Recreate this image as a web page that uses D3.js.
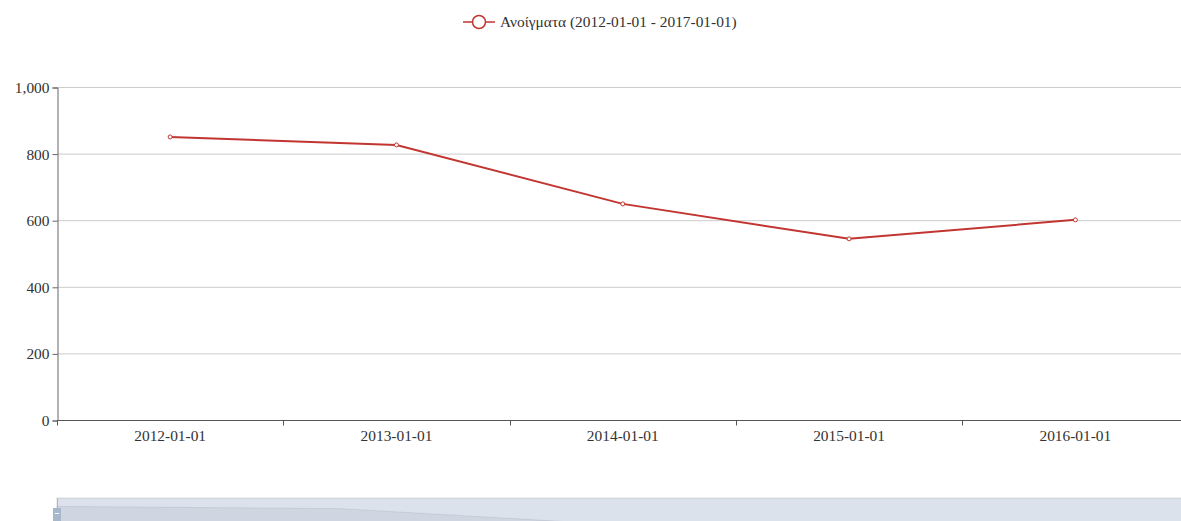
<!DOCTYPE html>
<html lang="en">
    <head>
        <meta charset="utf-8">
        <title>Ανοίγματα</title>
        <style type="text/css">
            body { margin: 0; background: #fff; overflow: hidden; }
            .lbl { font-family: "Liberation Serif", serif; font-size: 15.4px; fill: #333; }
        </style>
        <script type="text/javascript" src="https://cdn.jsdelivr.net/npm/d3@7/dist/d3.min.js"></script>
    </head>
    <body>
        <script type="text/javascript">

var w = 1181;
var h = 521;

// data
var categories = ['2012-01-01', '2013-01-01', '2014-01-01', '2015-01-01', '2016-01-01'];
var values = [850, 826, 649, 544, 601];
var yTicks = [0, 200, 400, 600, 800, 1000];
var seriesName = 'Ανοίγματα (2012-01-01 - 2017-01-01)';

var red = '#c23531';

var svg = d3.select('body')
    .append('svg')
    .attr('width', w)
    .attr('height', h);

var pLeft = 57, pRight = 1188.5, pTop = 87, pBottom = 420;

var x = d3.scaleBand().domain(categories).range([pLeft, pRight]).padding(0);
var y = d3.scaleLinear().domain([0, 1000]).range([pBottom, pTop]);

// grid
svg.append('g').selectAll('line')
  .data(yTicks.filter(function(d){return d > 0}))
  .enter()
  .append('line')
  .attr('x1', pLeft).attr('x2', pRight)
  .attr('y1', function(d){return y(d) + 0.5})
  .attr('y2', function(d){return y(d) + 0.5})
  .attr('stroke', '#ccc');

// y axis
var yAxis = d3.axisLeft(y).tickValues(yTicks).tickSize(5).tickPadding(3)
  .tickFormat(d3.format(','));
var gy = svg.append('g').attr('transform', 'translate(' + (pLeft + 0.5) + ',0.5)').call(yAxis);
gy.select('.domain').attr('stroke', '#666');
gy.selectAll('.tick line').attr('stroke', '#666');
gy.selectAll('text').attr('class', 'lbl').attr('fill', null);

// x axis
var xAxis = d3.axisBottom(x).tickSize(0).tickPadding(10);
var gx = svg.append('g').attr('transform', 'translate(0,' + (pBottom + 0.5) + ')').call(xAxis);
gx.select('.domain').attr('stroke', '#555').attr('d', 'M' + pLeft + ',0H' + pRight);
gx.selectAll('text').attr('class', 'lbl').attr('fill', null);
// boundary ticks
gx.selectAll('line.bt')
  .data(categories)
  .enter()
  .append('line')
  .attr('class', 'bt')
  .attr('x1', function(d){return Math.round(x(d)) + 0.5})
  .attr('x2', function(d){return Math.round(x(d)) + 0.5})
  .attr('y1', 0).attr('y2', 5)
  .attr('stroke', '#555');

// line
var line = d3.line()
  .x(function(d, i){return x(categories[i]) + x.bandwidth() / 2})
  .y(function(d){return y(d)});

svg.append('path')
  .datum(values)
  .attr('d', line)
  .attr('fill', 'none')
  .attr('stroke', red)
  .attr('stroke-width', 2);

svg.selectAll('circle.pt')
  .data(values)
  .enter()
  .append('circle')
  .attr('class', 'pt')
  .attr('cx', function(d, i){return x(categories[i]) + x.bandwidth() / 2})
  .attr('cy', function(d){return y(d)})
  .attr('r', 2)
  .attr('fill', '#fff')
  .attr('stroke', red)
  .attr('stroke-width', 1);

// legend
var lg = svg.append('g').attr('transform', 'translate(463,22)');
lg.append('line').attr('x1', 0).attr('x2', 32).attr('y1', 0).attr('y2', 0)
  .attr('stroke', red).attr('stroke-width', 1.5);
lg.append('circle').attr('cx', 16).attr('cy', 0).attr('r', 6.5)
  .attr('fill', '#fff').attr('stroke', red).attr('stroke-width', 1.5);
lg.append('text').attr('class', 'lbl').attr('x', 37).attr('y', 0).attr('dy', '0.35em')
  .text(seriesName);

// data zoom slider
var sTop = 498, sH = 45;
var sx = d3.scaleLinear().domain([0, values.length - 1]).range([pLeft, pRight]);
var ext = d3.extent(values), off = (ext[1] - ext[0]) * 0.3;
var sy = d3.scaleLinear().domain([ext[0] - off, ext[1] + off]).range([sTop + sH, sTop]);

svg.append('rect')
  .attr('x', pLeft).attr('y', sTop).attr('width', pRight - pLeft).attr('height', sH)
  .attr('fill', 'none').attr('stroke', '#ddd');

var area = d3.area()
  .x(function(d, i){return sx(i)})
  .y0(sTop + sH)
  .y1(function(d){return sy(d)});
svg.append('path').datum(values).attr('d', area)
  .attr('fill', 'rgba(47,69,84,0.1)')
  .attr('stroke', 'rgba(47,69,84,0.3)').attr('stroke-width', 0.5);

svg.append('rect')
  .attr('x', pLeft).attr('y', sTop).attr('width', pRight - pLeft).attr('height', sH)
  .attr('fill', 'rgba(167,183,204,0.4)');

// handle
svg.append('line').attr('x1', pLeft + 0.5).attr('x2', pLeft + 0.5).attr('y1', sTop).attr('y2', h)
  .attr('stroke', '#a7b7cc');
svg.append('rect').attr('x', pLeft - 4).attr('y', 508).attr('width', 8).attr('height', 20)
  .attr('fill', '#a7b7cc');
svg.append('line').attr('x1', pLeft - 2).attr('x2', pLeft + 2).attr('y1', 513.5).attr('y2', 513.5)
  .attr('stroke', '#fff');

        </script>
    </body>
</html>
